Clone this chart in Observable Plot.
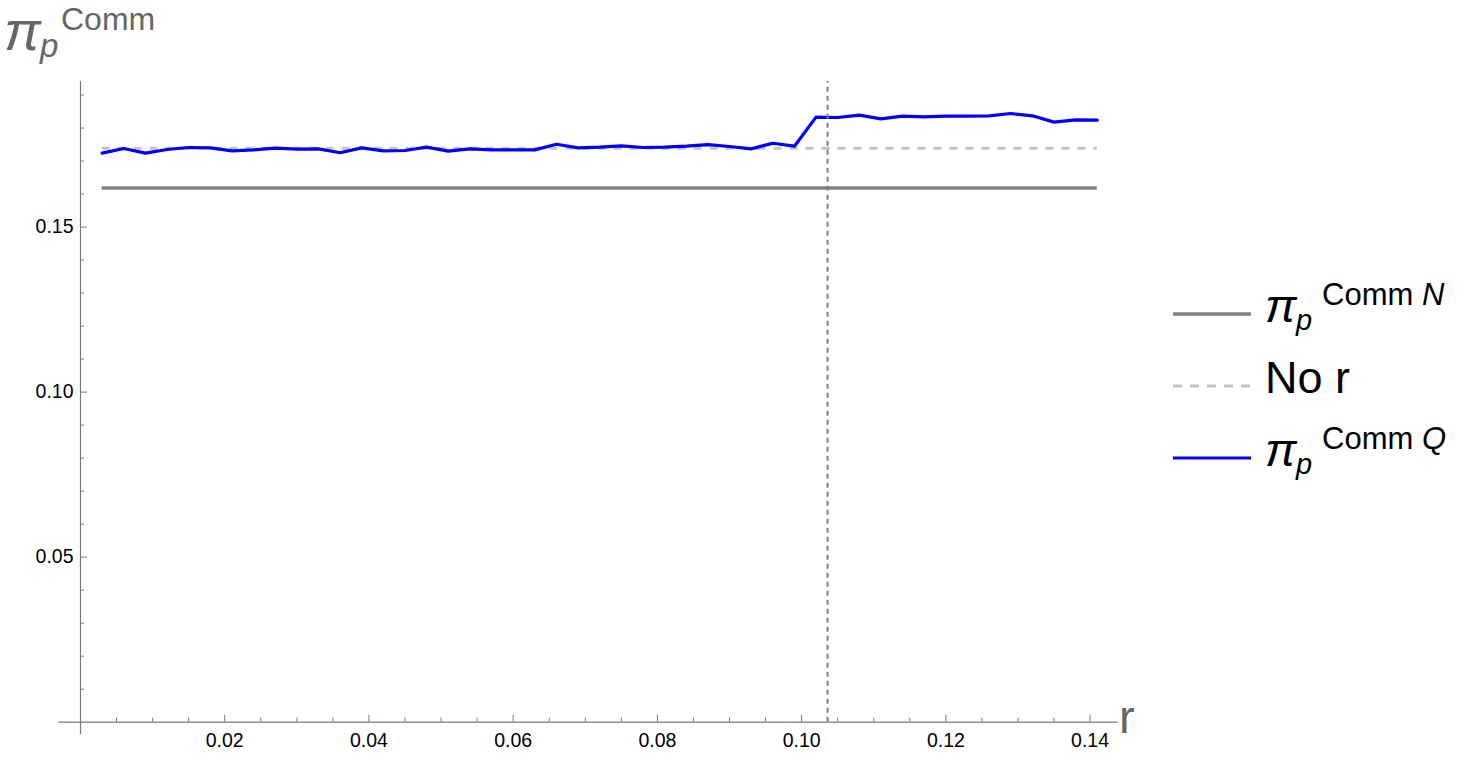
<!DOCTYPE html>
<html><head><meta charset="utf-8">
<script src="https://cdn.jsdelivr.net/npm/d3@7"></script>
<script src="https://cdn.jsdelivr.net/npm/@observablehq/plot@0.6"></script>
<style>
body{margin:0;background:#fff;}
#wrap{position:relative;width:1466px;height:758px;font-family:"Liberation Sans",Arial,sans-serif;}
#overlay{position:absolute;left:0;top:0;pointer-events:none;}
#wrap svg g[aria-label$="tick label"] text{font-size:19.5px;}
</style></head><body><div id="wrap"></div>
<script>
// ---- data ----
const rValues = [0.003,0.006,0.009,0.012,0.015,0.018,0.021,0.024,0.027,0.030,0.033,0.036,0.039,0.042,0.045,0.048,0.051,0.054,0.057,0.060,0.063,0.066,0.069,0.072,0.075,0.078,0.081,0.084,0.087,0.090,0.093,0.096,0.099,0.102,0.105,0.108,0.111,0.114,0.117,0.120,0.123,0.126,0.129,0.132,0.135,0.138,0.141];
const commQ = [0.1724,0.1738,0.1724,0.1735,0.1741,0.1740,0.1731,0.1734,0.1739,0.1736,0.1737,0.1725,0.1740,0.1731,0.1732,0.1742,0.1730,0.1737,0.1734,0.1734,0.1734,0.1751,0.1740,0.1742,0.1746,0.1741,0.1742,0.1745,0.1750,0.1744,0.1737,0.1754,0.1745,0.1833,0.1832,0.1839,0.1828,0.1836,0.1834,0.1836,0.1836,0.1837,0.1844,0.1837,0.1818,0.1825,0.1824];
const commN = 0.1618;
const noR = 0.1739;
const threshold = 0.1036;
const seriesSpan = [0.003, 0.141];
const xMajorTicks = [0.02,0.04,0.06,0.08,0.10,0.12,0.14];
const xMinorTicks = [0.005,0.01,0.015,0.025,0.03,0.035,0.045,0.05,0.055,0.065,0.07,0.075,0.085,0.09,0.095,0.105,0.11,0.115,0.125,0.13,0.135];
const yMajorTicks = [0.05,0.10,0.15];
const yMinorTicks = [0.01,0.02,0.03,0.04,0.06,0.07,0.08,0.09,0.11,0.12,0.13,0.14,0.16,0.17,0.18,0.19];
const xDomain = [0, 0.1439];
const yDomain = [0, 0.1941];
const axisExtentX = [-0.003, 0.1439];
const axisExtentY = [-0.0037, 0.1941];
const legendNames = ["Comm N", "No r", "Comm Q"];

// ---- chart ----
const data = rValues.map((r, i) => ({r, v: commQ[i]}));
const fmt = d3.format(".2f");
const axisColor = "#7a7a7a";
const chart = Plot.plot({
  width: 1466, height: 758,
  marginLeft: 80, marginRight: 348.3, marginTop: 81, marginBottom: 36.3,
  x: {domain: xDomain},
  y: {domain: yDomain},
  style: {fontFamily: "'Liberation Sans', Arial, sans-serif", fontSize: "19px", background: "white", overflow: "visible", color: "black"},
  marks: [
    Plot.ruleY([0], {x1: axisExtentX[0], x2: axisExtentX[1], stroke: axisColor, strokeWidth: 1.2}),
    Plot.ruleX([0], {y1: axisExtentY[0], y2: axisExtentY[1], stroke: axisColor, strokeWidth: 1.2}),
    Plot.axisX(xMajorTicks, {anchor: "bottom", tickSize: -7, fill: "none", stroke: axisColor, label: null}),
    Plot.axisX(xMinorTicks, {anchor: "bottom", tickSize: -4, fill: "none", stroke: axisColor, label: null}),
    Plot.axisX(xMajorTicks, {anchor: "bottom", tickSize: 0, tickPadding: 11, tickFormat: fmt, fontSize: 19.5, fill: "black", label: null}),
    Plot.axisY(yMajorTicks, {anchor: "left", tickSize: -7, fill: "none", stroke: axisColor, label: null}),
    Plot.axisY(yMinorTicks, {anchor: "left", tickSize: -4, fill: "none", stroke: axisColor, label: null}),
    Plot.axisY(yMajorTicks, {anchor: "left", tickSize: 0, tickPadding: 7, tickFormat: fmt, fontSize: 19.5, fill: "black", label: null}),
    Plot.ruleY([commN], {x1: seriesSpan[0], x2: seriesSpan[1], stroke: "#808080", strokeWidth: 3.5}),
    Plot.ruleY([noR], {x1: seriesSpan[0], x2: seriesSpan[1], stroke: "#c4c4c4", strokeWidth: 3, strokeDasharray: "8,8"}),
    Plot.lineY(data, {x: "r", y: "v", stroke: "#0000ff", strokeWidth: 3.2}),
    Plot.ruleX([threshold], {y1: 0, y2: yDomain[1], stroke: "#808080", strokeWidth: 2, strokeDasharray: "5,4"})
  ]
});
const wrap = document.getElementById("wrap");
wrap.appendChild(chart);

// ---- overlay: axis labels and legend ----
const ov = d3.select(wrap).append("svg").attr("id", "overlay").attr("width", 1466).attr("height", 758)
  .style("font-family", "'Liberation Sans', Arial, sans-serif");
function rich(pieces, fill) {
  const tx = ov.append("text").attr("fill", fill);
  pieces.forEach(p => {
    const ts = tx.append("tspan").attr("y", p.y).attr("font-size", p.size)
      .attr("font-style", p.italic ? "italic" : "normal").text(p.s);
    if (p.x != null) ts.attr("x", p.x);
  });
  return tx;
}
const gray = "#666666";
// y-axis label π_p^Comm
rich([
  {s: "π", x: 4, y: 50, size: 55, italic: true},
  {s: "p", x: 40, y: 57, size: 33, italic: true},
  {s: "Comm", x: 61, y: 30, size: 32, italic: false}
], gray);
// x-axis label
rich([{s: "r", x: 1119, y: 733, size: 47, italic: false}], gray);

// legend
const rows = [
  {y: 314, stroke: "#808080", dash: null, width: 3.5},
  {y: 386, stroke: "#c4c4c4", dash: "9,8", width: 3},
  {y: 458, stroke: "#0000ff", dash: null, width: 3.2}
];
rows.forEach((row, i) => {
  const l = ov.append("line").attr("x1", 1173).attr("x2", 1251).attr("y1", row.y).attr("y2", row.y)
    .attr("stroke", row.stroke).attr("stroke-width", row.width);
  if (row.dash) l.attr("stroke-dasharray", row.dash);
  const name = legendNames[i];
  if (name === "No r") {
    rich([{s: name, x: 1265, y: row.y + 7, size: 45, italic: false}], "black");
  } else {
    const parts = name.split(" ");
    rich([
      {s: "π", x: 1265, y: row.y + 8, size: 47, italic: true},
      {s: "p", x: 1296, y: row.y + 16, size: 29, italic: true},
      {s: parts[0] + " ", x: 1322, y: row.y - 9, size: 31, italic: false},
      {s: parts[1], y: row.y - 9, size: 31, italic: true}
    ], "black");
  }
});
</script></body></html>
